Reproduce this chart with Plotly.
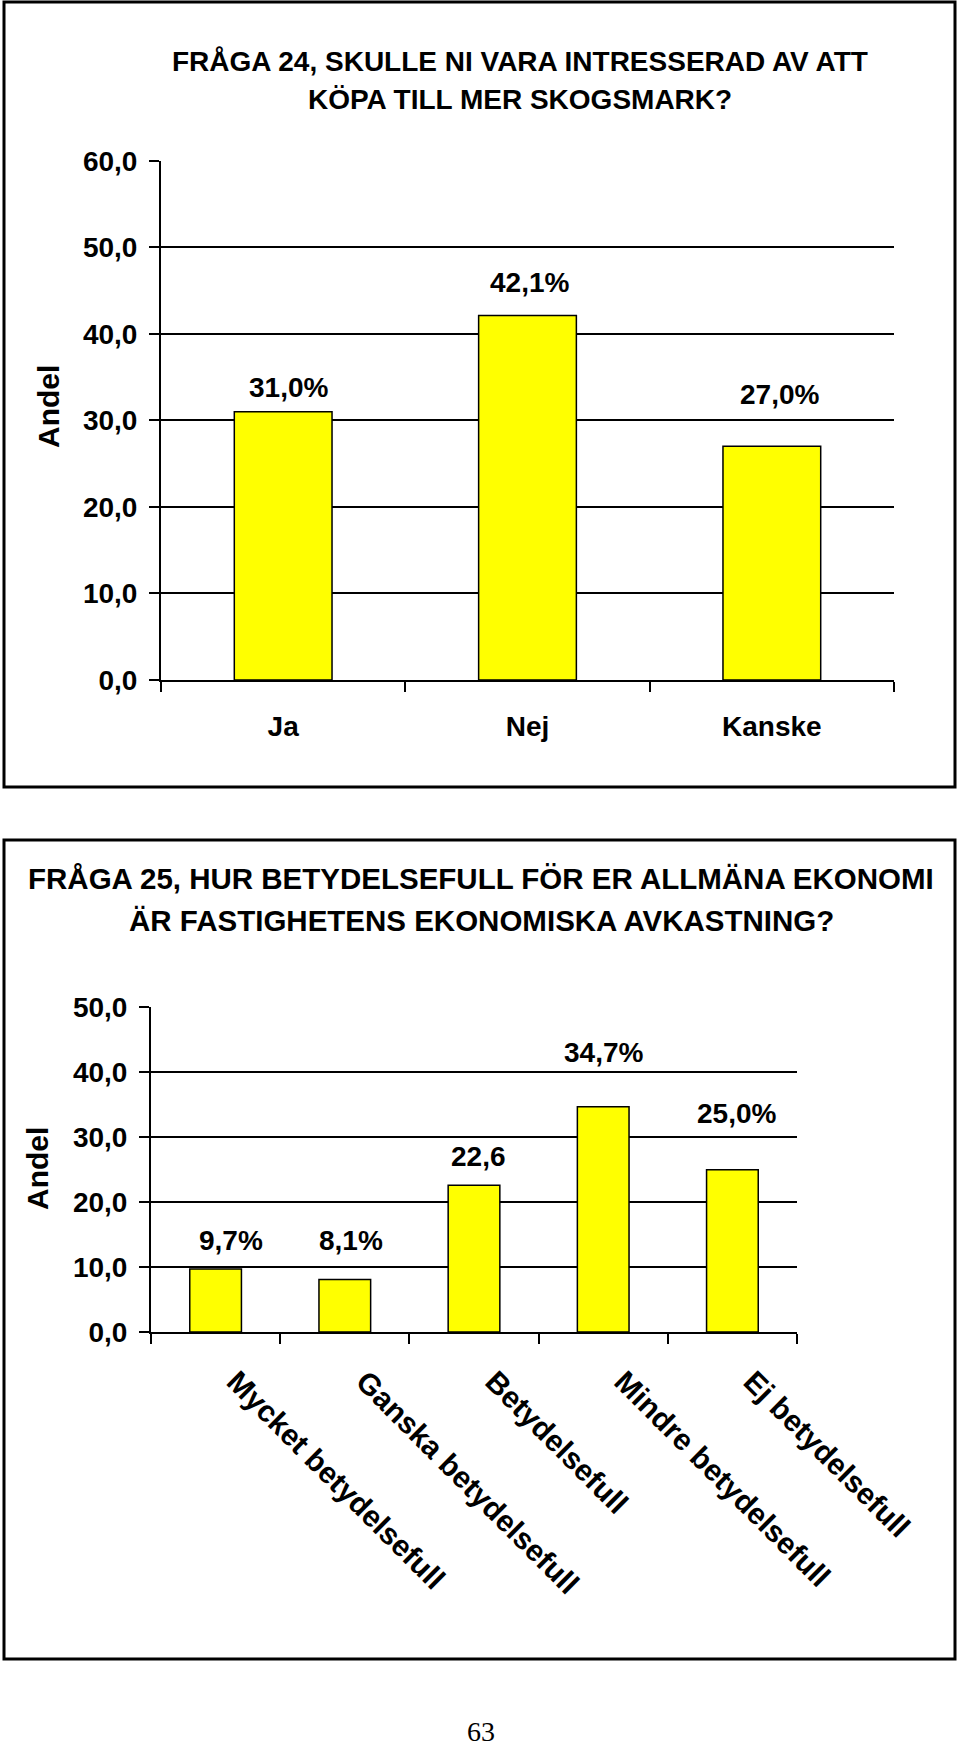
import plotly.graph_objects as go

W, H = 960, 1746

# ---------------- data ----------------
q24_title_lines = ["FRÅGA 24, SKULLE NI VARA INTRESSERAD AV ATT", "KÖPA TILL MER SKOGSMARK?"]
q24_categories = ["Ja", "Nej", "Kanske"]
q24_values = [31.0, 42.1, 27.0]
q24_labels = ["31,0%", "42,1%", "27,0%"]
q24_yticks = [0, 10, 20, 30, 40, 50, 60]

q25_title_lines = ["FRÅGA 25, HUR BETYDELSEFULL FÖR ER ALLMÄNA EKONOMI",
                   "ÄR FASTIGHETENS EKONOMISKA AVKASTNING?"]
q25_categories = ["Mycket betydelsefull", "Ganska betydelsefull", "Betydelsefull",
                  "Mindre betydelsefull", "Ej betydelsefull"]
q25_values = [9.7, 8.1, 22.6, 34.7, 25.0]
q25_labels = ["9,7%", "8,1%", "22,6", "34,7%", "25,0%"]
q25_yticks = [0, 10, 20, 30, 40, 50]

y_title = "Andel"
page_number = "63"

# ---------------- styles / placement (pixels) ----------------
q24_title_y = [62, 99]
q25_title_y = [878, 920]
q24_label_dx = [5, 2, 8]
q24_label_dy = [24, 33, 52]
q25_label_dx = [15, 6, 4, 0, 4]
q25_label_dy = [29, 39, 29, 54, 56]

FONT = "Liberation Sans, Arial, sans-serif"
BAR_COLOR = "#FFFF00"


def px(x):
    return x / W


def py(y):
    return 1 - y / H


fig = go.Figure()

fig.add_trace(go.Bar(x=q24_categories, y=q24_values, xaxis="x", yaxis="y",
                     marker=dict(color=BAR_COLOR, line=dict(color="black", width=1.5)),
                     hoverinfo="skip"))
fig.add_trace(go.Bar(x=q25_categories, y=q25_values, xaxis="x2", yaxis="y2",
                     marker=dict(color=BAR_COLOR, line=dict(color="black", width=1.5)),
                     hoverinfo="skip"))

tickfont = dict(family=FONT, size=28, color="black", weight="bold")

common_x = dict(type="category", showline=True, linecolor="black", linewidth=2,
                ticks="outside", tickson="boundaries", ticklen=10, tickwidth=2,
                tickcolor="black", tickfont=tickfont, showgrid=False, zeroline=False,
                fixedrange=True, automargin=False)
common_y = dict(tickformat=".1f", showgrid=True, gridcolor="black", gridwidth=2,
                ticks="outside", ticklen=10, tickwidth=2, tickcolor="black",
                showline=True, linecolor="black", linewidth=2, zeroline=False,
                tickfont=tickfont, fixedrange=True, automargin=False)

fig.update_layout(
    width=W, height=H,
    margin=dict(l=0, r=0, t=0, b=0, pad=0, autoexpand=False),
    paper_bgcolor="white", plot_bgcolor="white",
    separators=", ",
    showlegend=False,
    bargap=0.6,
    xaxis=dict(common_x, domain=[px(161), px(894)], anchor="y",
               range=[-0.5, len(q24_categories) - 0.5], ticklabelstandoff=20),
    yaxis=dict(common_y, domain=[py(680), py(160.7)], anchor="x",
               range=[0, 60], tickvals=q24_yticks, ticklabelstandoff=6),
    xaxis2=dict(common_x, domain=[px(151), px(797)], anchor="y2",
                range=[-0.5, len(q25_categories) - 0.5], tickangle=45,
                ticklabelstandoff=18, ticklabelshift=20, tickfont=dict(tickfont, size=30)),
    yaxis2=dict(common_y, domain=[py(1332), py(1007.3)], anchor="x2",
                range=[0, 50], tickvals=q25_yticks, ticklabelstandoff=6),
)

annotations = []
title_font = dict(family=FONT, color="black", weight="bold")
for line, yy in zip(q24_title_lines, q24_title_y):
    annotations.append(dict(text=line, x=px(520), y=py(yy), xref="paper", yref="paper",
                            showarrow=False, xanchor="center", yanchor="middle",
                            font=dict(title_font, size=28)))
for line, yy in zip(q25_title_lines, q25_title_y):
    annotations.append(dict(text=line, x=px(481), y=py(yy), xref="paper", yref="paper",
                            showarrow=False, xanchor="center", yanchor="middle",
                            font=dict(title_font, size=29.5)))
annotations.append(dict(text=y_title, x=px(48), y=py(407), xref="paper", yref="paper",
                        showarrow=False, textangle=-90, xanchor="center", yanchor="middle",
                        font=dict(title_font, size=30)))
annotations.append(dict(text=y_title, x=px(37), y=py(1169), xref="paper", yref="paper",
                        showarrow=False, textangle=-90, xanchor="center", yanchor="middle",
                        font=dict(title_font, size=30)))

for cat, val, lab, dx, dy in zip(q24_categories, q24_values, q24_labels, q24_label_dx, q24_label_dy):
    annotations.append(dict(text=lab, x=cat, y=val, xref="x", yref="y", showarrow=False,
                            xanchor="center", yanchor="middle", xshift=dx, yshift=dy,
                            font=dict(family=FONT, size=28, color="black", weight="bold")))
for cat, val, lab, dx, dy in zip(q25_categories, q25_values, q25_labels, q25_label_dx, q25_label_dy):
    annotations.append(dict(text=lab, x=cat, y=val, xref="x2", yref="y2", showarrow=False,
                            xanchor="center", yanchor="middle", xshift=dx, yshift=dy,
                            font=dict(family=FONT, size=28, color="black", weight="bold")))

annotations.append(dict(text=page_number, x=px(481), y=py(1731), xref="paper", yref="paper",
                        showarrow=False, xanchor="center", yanchor="middle",
                        font=dict(family="Liberation Serif, Times New Roman, serif",
                                  size=28, color="black")))
fig.update_layout(annotations=annotations)

# chart frames
fig.add_shape(type="rect", xref="paper", yref="paper",
              x0=px(4), x1=px(955), y0=py(787), y1=py(2),
              line=dict(color="black", width=3), fillcolor="rgba(0,0,0,0)", layer="below")
fig.add_shape(type="rect", xref="paper", yref="paper",
              x0=px(4), x1=px(955), y0=py(1659), y1=py(840),
              line=dict(color="black", width=3), fillcolor="rgba(0,0,0,0)", layer="below")

fig.write_html("out.html", config={"displayModeBar": False})
